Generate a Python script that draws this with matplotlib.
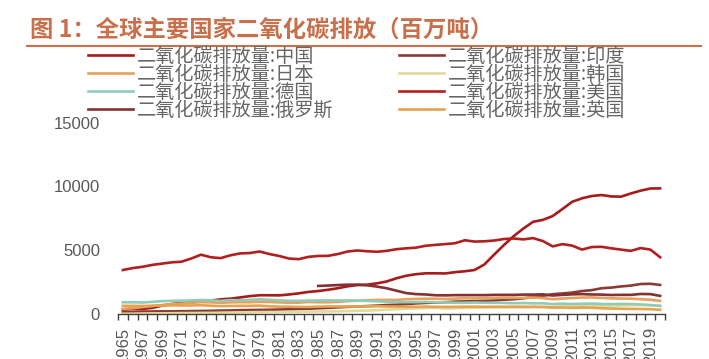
import numpy as np
import matplotlib
matplotlib.use('Agg')
import matplotlib.pyplot as plt
from matplotlib.ticker import FixedLocator

plt.rcParams['font.family'] = ['Liberation Sans', 'Noto Sans CJK SC', 'DejaVu Sans']

# data (million tonnes CO2), 1965-2020
years = list(range(1965, 2021))

china = [350, 420, 400, 480, 650, 780, 880, 950, 1000, 1050,
         1150, 1200, 1300, 1400, 1470, 1470, 1460, 1530, 1620, 1730,
         1800, 1900, 2020, 2170, 2270, 2300, 2400, 2550, 2800, 3000,
         3120, 3190, 3190, 3180, 3280, 3350, 3450, 3880, 4650, 5400,
         6100, 6700, 7230, 7380, 7680, 8230, 8800, 9070, 9250, 9330,
         9220, 9200, 9450, 9670, 9840, 9850]
usa = [3450, 3600, 3700, 3850, 3950, 4050, 4100, 4350, 4650, 4450,
       4380, 4600, 4750, 4780, 4900, 4700, 4550, 4350, 4300, 4480,
       4550, 4560, 4700, 4900, 4980, 4920, 4880, 4950, 5080, 5150,
       5200, 5350, 5420, 5480, 5550, 5780, 5680, 5700, 5760, 5880,
       5920, 5850, 5950, 5720, 5300, 5480, 5360, 5050, 5250, 5270,
       5150, 5050, 4950, 5170, 5050, 4450]
india = [170, 180, 190, 200, 210, 210, 220, 230, 240, 250,
         270, 280, 300, 310, 320, 330, 350, 370, 390, 410,
         450, 480, 520, 560, 590, 620, 660, 700, 730, 770,
         830, 870, 900, 920, 970, 990, 1000, 1030, 1060, 1120,
         1160, 1230, 1330, 1430, 1550, 1610, 1680, 1800, 1870, 2020,
         2070, 2160, 2230, 2350, 2370, 2280]
japan = [400, 450, 540, 620, 700, 780, 820, 870, 930, 910,
         880, 910, 930, 920, 960, 940, 910, 880, 890, 940,
         920, 920, 950, 1010, 1040, 1080, 1100, 1110, 1100, 1160,
         1180, 1200, 1200, 1170, 1210, 1230, 1220, 1240, 1250, 1270,
         1270, 1260, 1290, 1250, 1160, 1210, 1250, 1290, 1300, 1260,
         1230, 1210, 1200, 1160, 1120, 1030]
korea = [20, 25, 35, 45, 55, 60, 70, 75, 85, 90,
         100, 110, 125, 140, 150, 155, 160, 165, 175, 185,
         190, 200, 210, 230, 250, 270, 300, 340, 380, 410,
         440, 470, 490, 430, 460, 480, 490, 510, 520, 520,
         520, 520, 540, 560, 560, 610, 630, 640, 650, 640,
         660, 670, 690, 700, 680, 630]
germany = [920, 920, 900, 950, 1010, 1030, 1040, 1060, 1100, 1070,
           1030, 1090, 1070, 1110, 1150, 1110, 1070, 1030, 1030, 1050,
           1060, 1070, 1060, 1060, 1040, 1030, 1000, 950, 940, 930,
           930, 950, 920, 910, 880, 880, 900, 880, 880, 870,
           850, 860, 830, 840, 780, 810, 790, 800, 820, 780,
           780, 790, 780, 750, 700, 640]
uk = [640, 640, 630, 650, 670, 680, 670, 670, 690, 650,
      620, 630, 640, 640, 660, 600, 580, 570, 560, 550,
      580, 590, 590, 590, 590, 600, 610, 590, 580, 570,
      560, 580, 560, 560, 560, 570, 580, 560, 570, 570,
      570, 570, 560, 550, 500, 510, 480, 500, 490, 450,
      430, 410, 400, 390, 380, 330]
# Russia starts in 1985
russia = [np.nan] * 20 + [
    2200, 2230, 2270, 2300, 2300, 2250, 2150, 2020, 1830, 1640,
    1560, 1530, 1470, 1460, 1480, 1480, 1480, 1480, 1500, 1500,
    1500, 1520, 1520, 1540, 1450, 1500, 1540, 1560, 1530, 1520,
    1490, 1500, 1500, 1570, 1560, 1420]

prefix = '二氧化碳排放量:'
series = [
    ('中国', china, '#A61B1B'),
    ('印度', india, '#8B3A36'),
    ('日本', japan, '#E8A05C'),
    ('韩国', korea, '#E2DA98'),
    ('德国', germany, '#8FCBBA'),
    ('美国', usa, '#B11F1F'),
    ('俄罗斯', russia, '#833131'),
    ('英国', uk, '#E6A24E'),
]

W, H = 709, 359
fig = plt.figure(figsize=(W / 100, H / 100), dpi=100)
ax = fig.add_axes([118 / W, 1 - 314 / H, (665 - 118) / W, (314 - 122.7) / H])

handles = {}
for name, vals, col in series:
    ln, = ax.plot(years, vals, color=col, lw=1.9, label=prefix + name,
                  solid_joinstyle='round')
    handles[name] = ln

ax.set_xlim(1964.5, 2020.5)
ax.set_ylim(0, 15000)
ax.set_yticks([0, 5000, 10000, 15000])
ax.tick_params(axis='y', length=0, pad=13, labelsize=12, labelcolor='#595959')

ax.xaxis.set_major_locator(FixedLocator(years[::2]))
ax.set_xticklabels([str(y) for y in years[::2]], rotation=90)
ax.xaxis.set_minor_locator(FixedLocator(np.arange(1964.5, 2021, 1)))
ax.tick_params(axis='x', which='major', length=0, pad=9, labelsize=12,
               labelcolor='#595959')
ax.tick_params(axis='x', which='minor', length=4, width=1, color='#404040',
               direction='out')

for s in ['top', 'right', 'left']:
    ax.spines[s].set_visible(False)
ax.spines['bottom'].set_color('#404040')
ax.spines['bottom'].set_linewidth(1)

# title and rule
title_c = '#C8704C'
fig.text(30 / W, 1 - 30 / H, '图 1：全球主要国家二氧化碳排放（百万吨）',
         fontsize=16.8, fontweight='bold', color=title_c, va='center',
         family=['Noto Sans CJK SC', 'DejaVu Sans'])
fig.add_artist(plt.Line2D([27 / W, 701 / W], [1 - 45.7 / H, 1 - 45.7 / H],
                          color=title_c, lw=1.5))

order = ['中国', '日本', '德国', '俄罗斯', '印度', '韩国', '美国', '英国']
leg = fig.legend([handles[n] for n in order], [prefix + n for n in order],
                 ncol=2, loc='upper left', bbox_to_anchor=(88 / W, 1 - 46 / H),
                 frameon=False, fontsize=13.8, handlelength=2.35,
                 handletextpad=0.2, labelspacing=-0.16, columnspacing=3.4,
                 borderpad=0, borderaxespad=0)
for t in leg.get_texts():
    t.set_color('#666666')
    t.set_family(['Noto Sans CJK SC', 'DejaVu Sans'])

fig.savefig('out.png', dpi=100)
